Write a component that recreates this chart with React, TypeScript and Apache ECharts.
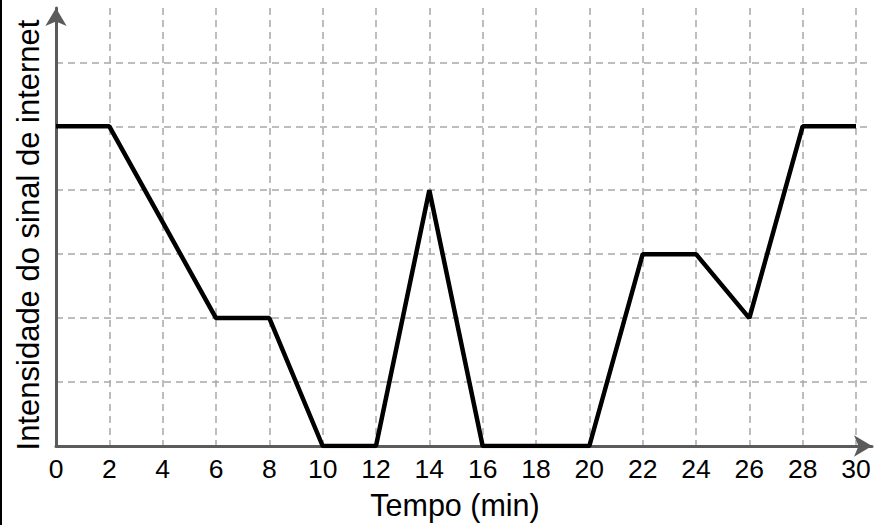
import React, { useEffect, useRef } from 'react';
import * as echarts from 'echarts';

const tempo = [0, 2, 4, 6, 8, 10, 12, 14, 16, 18, 20, 22, 24, 26, 28, 30];
const intensidade = [5, 5, 3.5, 2, 2, 0, 0, 4, 0, 0, 0, 3, 3, 2, 5, 5];

const axisGray = '#5b5b5b';
const gridGray = '#a8a8a8';

const App: React.FC = () => {
	const chartRef = useRef<HTMLDivElement | null>(null);

	useEffect(() => {
		document.body.style.margin = '0';
		if (!chartRef.current) return;
		const chart = echarts.init(chartRef.current, undefined, { renderer: 'svg' });

		const option = {
			animation: false,
			backgroundColor: '#fff',
			textStyle: { fontFamily: 'Liberation Sans, Arial, sans-serif' },
			grid: {
				left: 56,
				top: 8,
				right: 8,
				bottom: 79,
				containLabel: false,
				outerBoundsMode: 'none',
			},
			xAxis: {
				type: 'value',
				min: 0,
				max: 30.6,
				interval: 2,
				name: 'Tempo (min)',
				nameLocation: 'middle',
				nameGap: 43,
				nameTextStyle: { fontSize: 30.5, color: '#000', padding: [0, 18, 0, 0] },
				axisLine: {
					show: true,
					lineStyle: { color: axisGray, width: 3 },
					symbol: ['none', 'arrow'],
					symbolSize: [16, 18],
				},
				axisTick: { show: false },
				axisLabel: { fontSize: 26.5, color: '#000', margin: 9, showMaxLabel: false },
				splitLine: {
					show: true,
					showMinLine: false,
					showMaxLine: false,
					lineStyle: { color: gridGray, width: 1.5, type: [7, 5] },
				},
			},
			yAxis: {
				type: 'value',
				min: 0,
				max: 6.85,
				interval: 1,
				name: 'Intensidade do sinal de internet',
				nameLocation: 'middle',
				nameGap: 12,
				nameTextStyle: { fontSize: 31, color: '#000', padding: [0, 16, 0, 0] },
				axisLine: {
					show: true,
					lineStyle: { color: axisGray, width: 3 },
					symbol: ['none', 'arrow'],
					symbolSize: [16, 18],
				},
				axisTick: { show: false },
				axisLabel: { show: false },
				splitLine: {
					show: true,
					showMinLine: false,
					showMaxLine: false,
					lineStyle: { color: gridGray, width: 1.5, type: [7, 5] },
				},
			},
			graphic: [
				{
					type: 'line',
					shape: { x1: 1, y1: 0, x2: 1, y2: 525 },
					style: { stroke: '#000', lineWidth: 2 },
				},
			],
			series: [
				{
					type: 'line',
					data: tempo.map((t, i) => [t, intensidade[i]]),
					showSymbol: false,
					lineStyle: { color: '#000', width: 4.5 },
					itemStyle: { color: '#000' },
					z: 5,
				},
			],
		};

		chart.setOption(option as any);
		return () => {
			chart.dispose();
		};
	}, []);

	return <div ref={chartRef} style={{ width: '880px', height: '525px' }} />;
};

export default App;
